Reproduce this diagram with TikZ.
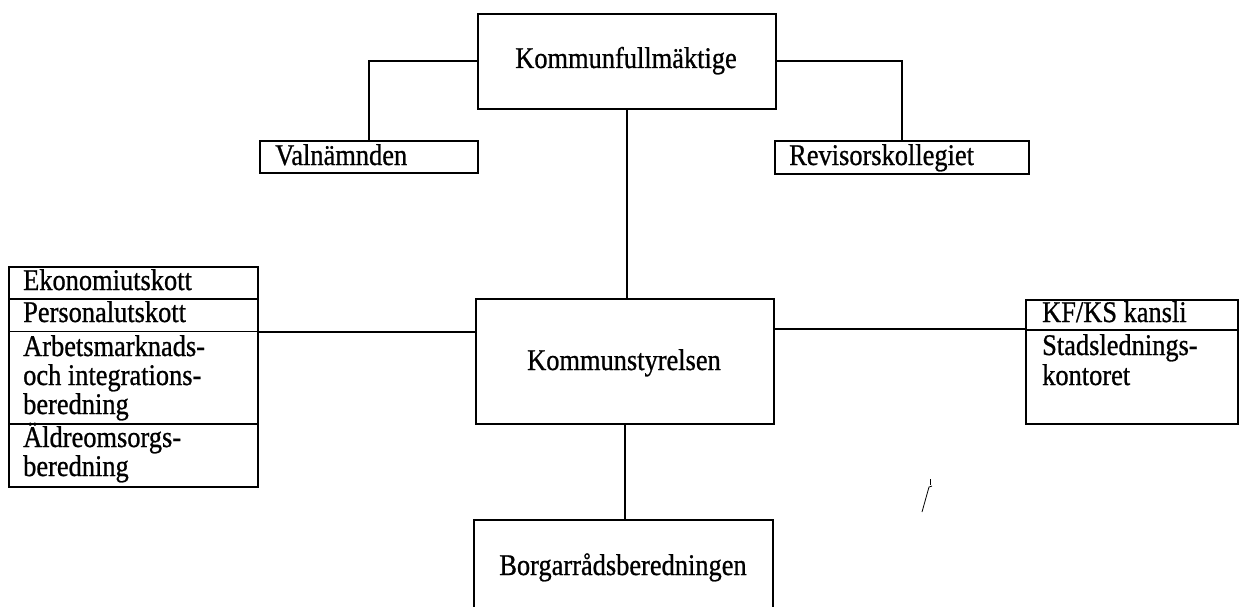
\documentclass[tikz,border=0pt]{standalone}
\usepackage{fontspec}
\setmainfont[FakeStretch=0.88,FakeBold=0.8]{Liberation Serif}
\begin{document}
\begin{tikzpicture}[x=1pt,y=-1pt,
  box/.style={draw, line width=1.8pt, inner sep=0pt, anchor=north west},
  lbl/.style={anchor=base west, inner sep=0pt, font=\fontsize{30}{30}\selectfont},
  clbl/.style={anchor=base, inner sep=0pt, font=\fontsize{30}{30}\selectfont},
  conn/.style={line width=1.8pt}]
\useasboundingbox (0,0) rectangle (1239,607);
\clip (0,0) rectangle (1239,607);
% top
\node[box, minimum width=298pt, minimum height=95pt] (kf) at (477,13) {};
\node[clbl] (kft) at (626,68) {Kommunfullmäktige};
\node[box, minimum width=218pt, minimum height=32pt] (valn) at (259,140) {};
\node[lbl] (valnt) at (275,165) {Valnämnden};
\node[box, minimum width=254pt, minimum height=33pt] (rev) at (774,140) {};
\node[lbl] (revt) at (789,165) {Revisorskollegiet};
% middle
\node[box, minimum width=298pt, minimum height=125pt] (ks) at (475,298) {};
\node[clbl] (kst) at (624,370) {Kommunstyrelsen};
\node[box, minimum width=299pt, minimum height=100pt] (bor) at (473,519) {};
\node[clbl] (bort) at (623,575) {Borgarrådsberedningen};
% left stack
\node[box, minimum width=249pt, minimum height=32pt] (eko) at (8,266) {};
\node[lbl] (ekot) at (23,290) {Ekonomiutskott};
\node[box, minimum width=249pt, minimum height=32.5pt] (pers) at (8,298) {};
\node[lbl] (perst) at (23,322) {Personalutskott};
\node[box, minimum width=249pt, minimum height=92.5pt] (arb) at (8,330.5) {};
\node[lbl] (arbt1) at (23,356) {Arbetsmarknads-};
\node[lbl] (arbt2) at (23,385) {och integrations-};
\node[lbl] (arbt3) at (23,414) {beredning};
\node[box, minimum width=249pt, minimum height=63pt] (ald) at (8,423) {};
\node[lbl] (aldt1) at (23,447) {Äldreomsorgs-};
\node[lbl] (aldt2) at (23,476) {beredning};
% right stack
\node[box, minimum width=212pt, minimum height=30pt] (kfks) at (1025,299) {};
\node[lbl] (kfkst) at (1042,322) {KF/KS kansli};
\node[box, minimum width=212pt, minimum height=94pt] (stad) at (1025,329) {};
\node[lbl] (stadt1) at (1042,355) {Stadslednings-};
\node[lbl] (stadt2) at (1042,385) {kontoret};
% connectors
\draw[conn] (kf.west) -| (valn.north);
\draw[conn] (kf.east) -| (rev.north);
\draw[conn] (kf.south) -- (kf.south |- ks.north);
\draw[conn] (pers.south east) -- (pers.south east -| ks.west);
\draw[conn] (ks.east |- stad.north west) -- (stad.north west);
\draw[conn] (ks.south) -- (ks.south |- bor.north);
% stray pen mark
\draw[line width=0.8pt] (922,512) -- (929,487) -- (932,486);
\draw[line width=0.8pt] (930,479) -- (930,485);
\end{tikzpicture}
\end{document}
